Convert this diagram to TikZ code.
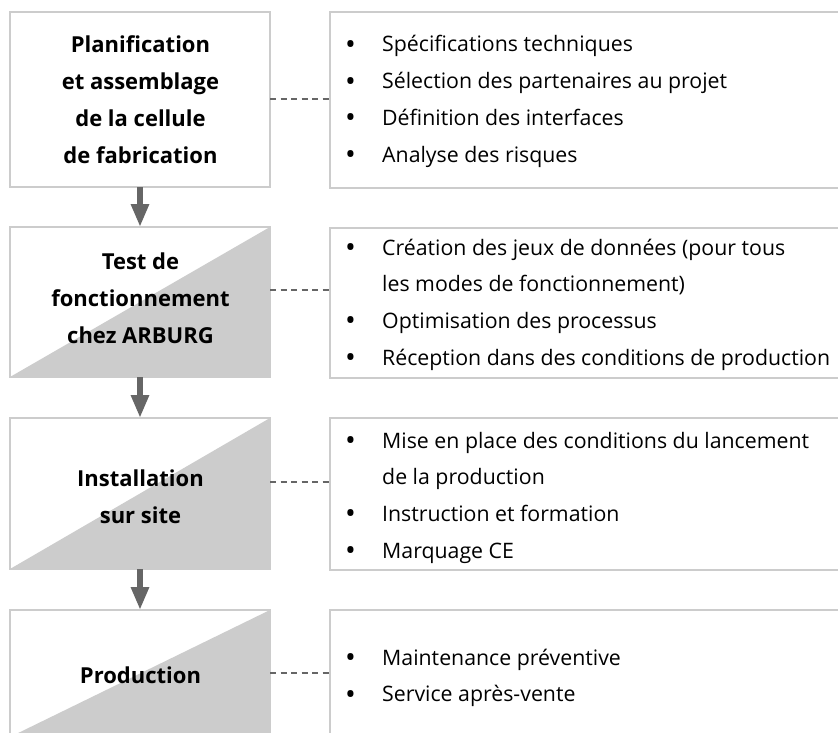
\documentclass[tikz,border=0pt]{standalone}
\usepackage{fontspec}
\usepackage{graphicx}
\setmainfont{Open Sans}
\usetikzlibrary{arrows.meta}
\definecolor{boxgrey}{HTML}{CCCCCC}
\definecolor{linegrey}{HTML}{666666}
\newcommand{\bulitem}{\makebox[37pt][l]{\raisebox{-2.5pt}{\scalebox{1.35}{•}}}}
\newcommand{\contline}{\hspace*{37pt}}
\tikzset{
  frame/.style={draw=boxgrey, line width=2pt, inner sep=0pt, outer sep=0pt},
  leftbox/.style={frame, minimum width=260pt},
  rightbox/.style={frame, minimum width=530pt},
  shade/.style={fill=boxgrey},
  lefttext/.style={font={\fontsize{22pt}{37pt}\selectfont\bfseries}, align=center, inner sep=0pt, anchor=base},
  righttext/.style={font={\fontsize{21.3pt}{36.7pt}\selectfont}, align=left, inner sep=0pt, anchor=base west},
  flow/.style={draw=linegrey, line width=6pt, -{Triangle[width=17pt,length=23pt]}},
  link/.style={draw=linegrey, line width=2.2pt, dash pattern=on 6pt off 4.5pt}
}
\begin{document}
\begin{tikzpicture}[x=1pt,y=-1pt]
\useasboundingbox (0,0) rectangle (838,733);
\clip (0,0) rectangle (838,733);
\fill[white] (0,0) rectangle (838,733);
% left boxes
\node[leftbox, minimum height=175pt] (b1) at (140,99.5) {};
\node[leftbox, minimum height=150pt] (b2) at (140,302) {};
\node[leftbox, minimum height=151pt] (b3) at (140,493.5) {};
\node[leftbox, minimum height=127pt] (b4) at (140,673.5) {};
\fill[shade] (b2.south west) -- (b2.north east) -- (b2.south east) -- cycle;
\fill[shade] (b3.south west) -- (b3.north east) -- (b3.south east) -- cycle;
\fill[shade] (b4.south west) -- (b4.north east) -- (b4.south east) -- cycle;
\node[leftbox, minimum height=150pt] at (b2) {};
\node[leftbox, minimum height=151pt] at (b3) {};
\node[leftbox, minimum height=127pt] at (b4) {};
% right boxes
\node[rightbox, minimum height=176pt] (r1) at (595,100) {};
\node[rightbox, minimum height=150pt] (r2) at (595,303) {};
\node[rightbox, minimum height=152pt] (r3) at (595,494) {};
\node[rightbox, minimum height=130pt] (r4) at (595,675) {};
% left texts (base anchor = baseline of last line)
\node[lefttext] (t1) at (140.5,164) {Planification\\et assemblage\\de la cellule\\de fabrication};
\node[lefttext] (t2) at (140.5,343) {Test de\\fonctionnement\\chez ARBURG};
\node[lefttext] (t3) at (140.5,523) {Installation\\sur site};
\node[lefttext] (t4) at (140.5,683) {Production};
% right texts
\node[righttext] (l1) at (345,162.1) {\bulitem Spécifications techniques\\\bulitem Sélection des partenaires au projet\\\bulitem Définition des interfaces\\\bulitem Analyse des risques};
\node[righttext] (l2) at (345,365.1) {\bulitem Création des jeux de données (pour tous\\\contline les modes de fonctionnement)\\\bulitem Optimisation des processus\\\bulitem Réception dans des conditions de production};
\node[righttext] (l3) at (345,558.1) {\bulitem Mise en place des conditions du lancement\\\contline de la production\\\bulitem Instruction et formation\\\bulitem Marquage CE};
\node[righttext] (l4) at (345,701.7) {\bulitem Maintenance préventive\\\bulitem Service après-vente};
% arrows
\draw[flow] (b1.south) -- (b2.north);
\draw[flow] (b2.south) -- (b3.north);
\draw[flow] (b3.south) -- (b4.north);
% dashed links
\coordinate (d1) at (0,99);
\coordinate (d2) at (0,290);
\coordinate (d3) at (0,482);
\coordinate (d4) at (0,673);
\draw[link] (b1.east |- d1) -- (r1.west |- d1);
\draw[link] (b2.east |- d2) -- (r2.west |- d2);
\draw[link] (b3.east |- d3) -- (r3.west |- d3);
\draw[link] (b4.east |- d4) -- (r4.west |- d4);
\end{tikzpicture}
\end{document}
